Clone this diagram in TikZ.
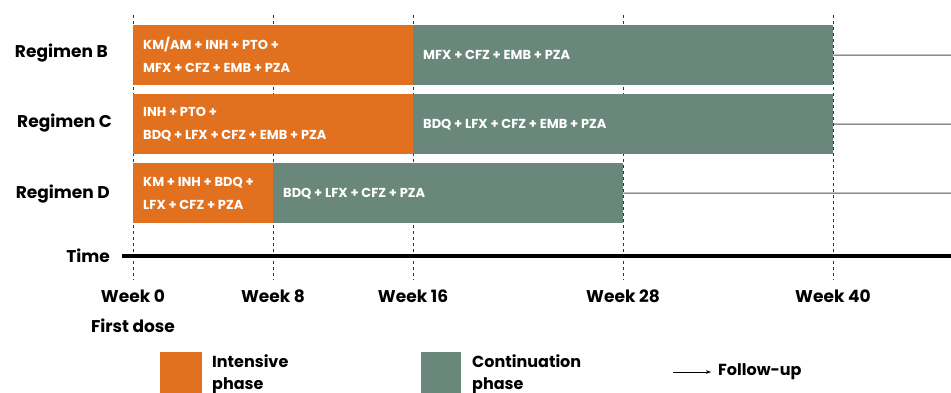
\documentclass[tikz,border=0pt]{standalone}
\usepackage{fontspec}
\setmainfont{Poppins}
\usetikzlibrary{arrows.meta}
\definecolor{intensive}{HTML}{E2711F}
\definecolor{continuation}{HTML}{69887B}
\tikzset{
  bar/.style={anchor=north west, inner sep=0pt, minimum height=60pt},
  drugs/.style={anchor=west, inner sep=0pt, text=white, align=left,
    font=\bfseries\fontsize{13}{23}\selectfont},
  regimen/.style={anchor=east, inner sep=0pt, font=\bfseries\fontsize{17}{20}\selectfont},
  week/.style={inner sep=0pt, font=\fontsize{17}{20}\selectfont\bfseries},
  legendtext/.style={anchor=west, inner sep=0pt, align=left, font=\bfseries\fontsize{16}{22}\selectfont},
  followup/.style={draw=black!70, line width=1pt}
}
\begin{document}
\begin{tikzpicture}[x=1pt,y=-1pt]
\useasboundingbox (0,0) rectangle (951,392);
% week grid
\foreach \w/\x in {0/133,8/273,16/413,28/623,40/833}
  \draw[dashed, black!80, line width=0.8pt] (\x,15) -- (\x,280);
% regimen B
\node[bar, fill=intensive, minimum width=280pt] (bi) at (133,25) {};
\node[bar, fill=continuation, minimum width=420pt] (bc) at (413,25) {};
\node[drugs] (bit) at ([xshift=10pt]bi.west) {KM/AM + INH + PTO +\\MFX + CFZ + EMB + PZA};
\node[drugs] (bct) at ([xshift=10pt]bc.west) {MFX + CFZ + EMB + PZA};
\coordinate (bf) at (951,55);
\draw[followup] (bc.east) -- (bf);
\node[regimen] (rb) at (108,53) {Regimen B};
% regimen C
\node[bar, fill=intensive, minimum width=280pt] (ci) at (133,94) {};
\node[bar, fill=continuation, minimum width=420pt] (cc) at (413,94) {};
\node[drugs] (cit) at ([xshift=10pt]ci.west) {INH + PTO +\\BDQ + LFX + CFZ + EMB + PZA};
\node[drugs] (cct) at ([xshift=10pt]cc.west) {BDQ + LFX + CFZ + EMB + PZA};
\coordinate (cf) at (951,124);
\draw[followup] (cc.east) -- (cf);
\node[regimen] (rc) at (112,123) {Regimen C};
% regimen D
\node[bar, fill=intensive, minimum width=140pt] (di) at (133,163) {};
\node[bar, fill=continuation, minimum width=350pt] (dc) at (273,163) {};
\node[drugs] (dit) at ([xshift=10pt]di.west) {KM + INH + BDQ +\\LFX + CFZ + PZA};
\node[drugs] (dct) at ([xshift=10pt]dc.west) {BDQ + LFX + CFZ + PZA};
\coordinate (df) at (951,193);
\draw[followup] (dc.east) -- (df);
\node[regimen] (rd) at (110,194) {Regimen D};
% time axis
\node[regimen] (time) at (110,256) {Time};
\coordinate (tend) at (951,256);
\draw[line width=3.5pt] ([xshift=12pt]time.east) -- (tend);
\node[week] (w0) at (133,296) {Week 0};
\node[week] (w8) at (273,296) {Week 8};
\node[week] (w16) at (413,296) {Week 16};
\node[week] (w28) at (623,296) {Week 28};
\node[week] (w40) at (833,296) {Week 40};
\node[week] (fd) at (133,326) {First dose};
% legend
\node[anchor=north west, fill=intensive, minimum width=42pt, minimum height=42pt, inner sep=0pt] (li) at (160,352) {};
\node[legendtext, anchor=north west] (lit) at (212,354) {Intensive\\phase};
\node[anchor=north west, fill=continuation, minimum width=40pt, minimum height=42pt, inner sep=0pt] (lc) at (421,352) {};
\node[legendtext, anchor=north west] (lct) at (472,354) {Continuation\\phase};
\node[legendtext] (lft) at (718,372) {Follow-up};
\coordinate (la) at (673,372);
\draw[-{Stealth[length=5pt]}, line width=0.8pt] (la) -- ([xshift=-7pt]lft.west);
\end{tikzpicture}
\end{document}
